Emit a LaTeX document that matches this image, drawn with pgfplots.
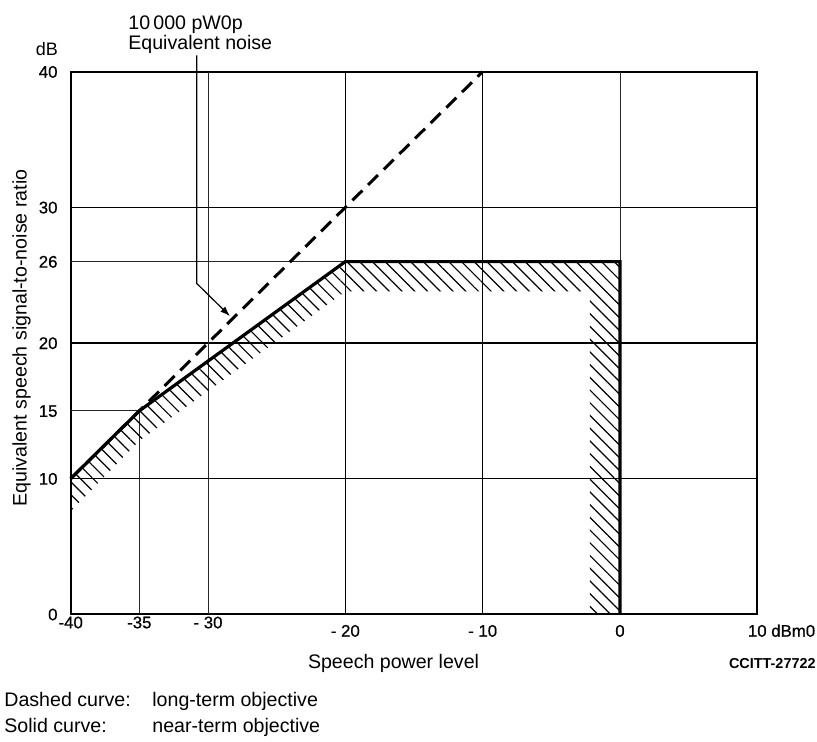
\documentclass[border=0pt]{standalone}
\usepackage{fontspec}
\setmainfont{Liberation Sans}
\usepackage{pgfplots}
\pgfplotsset{compat=1.18}
\usetikzlibrary{patterns.meta, arrows.meta}

\newcommand{\lbl}{\fontsize{9.8bp}{12bp}\selectfont}
\newcommand{\tck}{\fontsize{8.4bp}{10bp}\selectfont\addfontfeature{FakeBold=0.6}}

\begin{document}
\begin{tikzpicture}
% page = 817 x 742 px at 0.5 bp per px, axis box starts at (70.7, 614.3) px
\path[use as bounding box] (-35.35bp,-63.85bp) rectangle (373.15bp,307.15bp);
\begin{axis}[
    scale only axis,
    width=343.3bp, height=271.3bp,
    xmin=-40, xmax=10, ymin=0, ymax=40,
    clip=false,
    axis line style={line width=1bp},
    major tick length=0pt,
    xtick={-40,-35,-30,-20,-10,0,10},
    xticklabels={\raisebox{4.2bp}{-40},\raisebox{4.2bp}{-35},\raisebox{4.2bp}{- 30},- 20,- 10,0,10\rlap{ dBm0}},
    xticklabel style={font=\tck, anchor=base, inner sep=0pt, yshift=-11.2bp},
    ytick={0,10,15,20,26,30,40},
    yticklabels={0,10,15,20,26,30,40},
    yticklabel style={font=\tck, anchor=base east, inner sep=0pt, xshift=-6.4bp, yshift=-3bp},
    gl/.style={line width=0.65bp, black},
    glt/.style={line width=0.45bp, black!85},
]

% grid, drawn only where the original has it
\addplot[gl] coordinates {(-40,10) (10,10)};
\addplot[glt] coordinates {(-40,15) (-35,15)};
\addplot[gl] coordinates {(-40,20) (10,20)};
\addplot[glt] coordinates {(-40,26) (-20,26)};
\addplot[gl] coordinates {(-40,30) (10,30)};
\addplot[glt] coordinates {(-35,0) (-35,15)};
\addplot[glt] coordinates {(-30,0) (-30,40)};
\addplot[gl] coordinates {(-20,0) (-20,40)};
\addplot[gl] coordinates {(-10,0) (-10,40)};
\addplot[glt] coordinates {(0,26) (0,40)};

% hatched band inside the near-term limit
\addplot[draw=none, pattern={Lines[angle=-45, distance=4.5bp, line width=0.6bp]}]
    coordinates {(-40,10) (-35,15) (-20,26) (0,26) (0,0) (-2.2,0)
                 (-2.2,23.8) (-20,23.8) (-35,12.8) (-40,7.6)};

% long-term objective
\addplot[line width=1.5bp, dash pattern=on 7bp off 4bp]
    coordinates {(-40,10) (-10,40)};

% near-term objective
\addplot[line width=1.6bp, line join=miter]
    coordinates {(-40,10) (-35,15) (-20,26) (0,26) (0,0)};

% annotation
\draw[line width=0.6bp, -{Latex[length=5bp, width=3.5bp]}]
    (axis cs:-30.82,41.2) -- (axis cs:-30.82,24.39) -- (axis cs:-28.40,21.98);
\node[anchor=base west, inner sep=0pt, font=\lbl] at (axis cs:-35.83,43.11) {10\,000 pW0p};
\node[anchor=base west, inner sep=0pt, font=\lbl] at (axis cs:-35.83,41.65) {Equivalent noise};

\node[anchor=base, inner sep=0pt, font=\fontsize{9bp}{11bp}\selectfont] at (axis cs:-41.73,41.23) {dB};
\node[rotate=90, inner sep=0pt, font=\lbl] at (axis cs:-43.58,20.37) {Equivalent speech signal-to-noise ratio};
\node[anchor=base, inner sep=0pt, font=\lbl] at (axis cs:-16.49,-3.98) {Speech power level};
\node[anchor=base east, inner sep=0pt, font=\fontsize{7.2bp}{9bp}\selectfont\bfseries] at (axis cs:14.27,-3.98) {CCITT-27722};

% footnote
\node[anchor=base west, inner sep=0pt, font=\lbl] at (axis cs:-44.86,-6.81) {Dashed curve:};
\node[anchor=base west, inner sep=0pt, font=\lbl] at (axis cs:-34.08,-6.81) {long-term objective};
\node[anchor=base west, inner sep=0pt, font=\lbl] at (axis cs:-44.86,-8.73) {Solid curve:};
\node[anchor=base west, inner sep=0pt, font=\lbl] at (axis cs:-34.08,-8.73) {near-term objective};
\end{axis}
\end{tikzpicture}
\end{document}
